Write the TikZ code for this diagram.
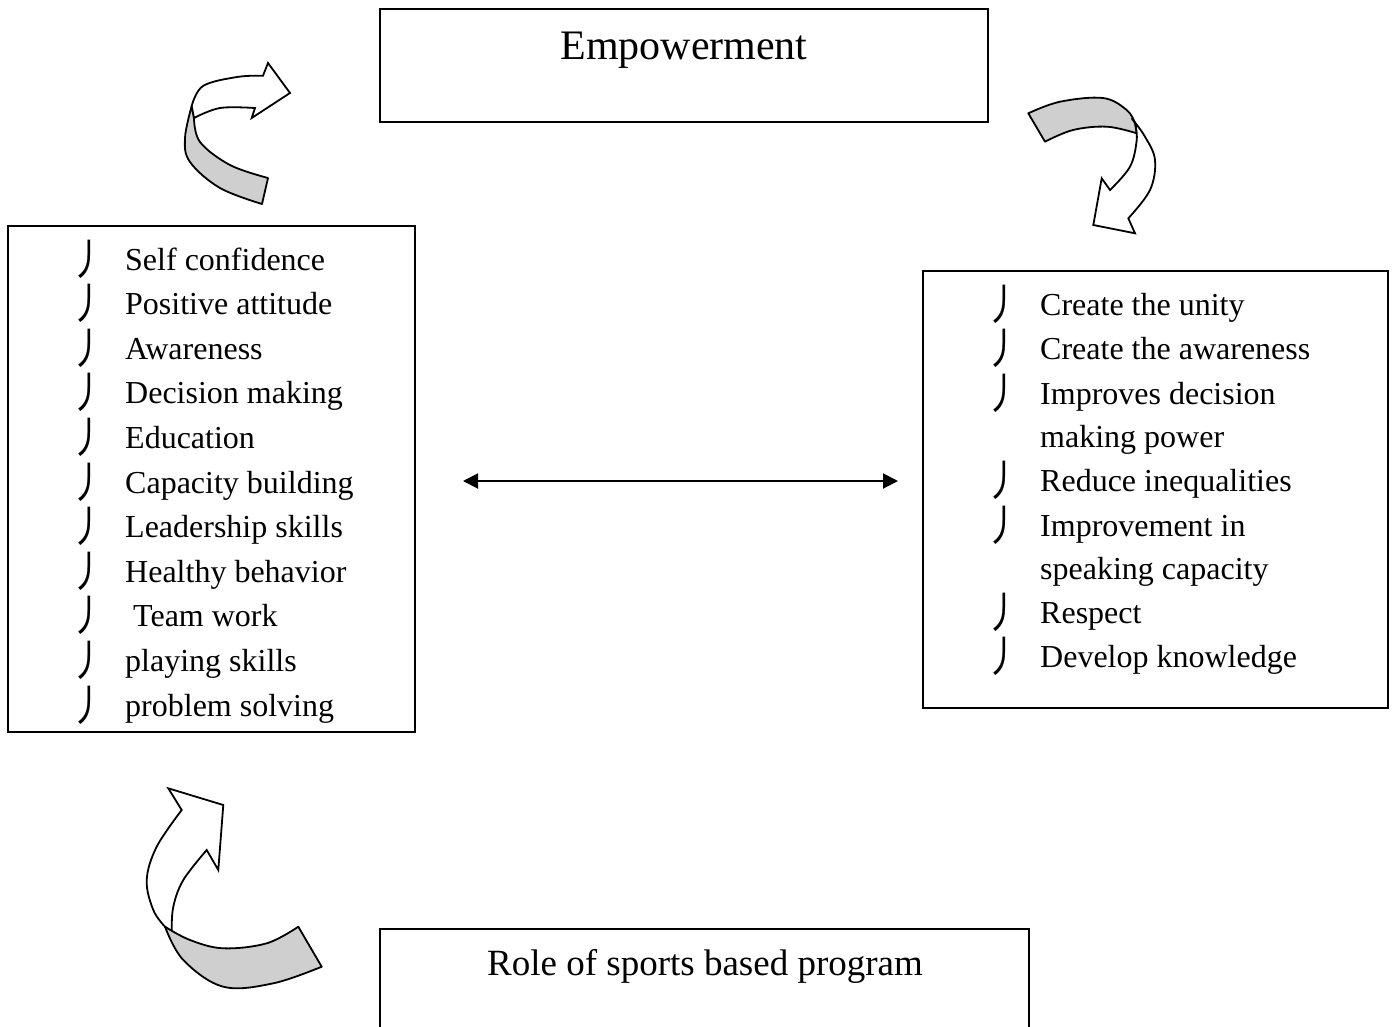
\documentclass[tikz,border=0pt]{standalone}
\usepackage{fontspec}
\usepackage{graphicx}
\setmainfont{Liberation Serif}
\newfontfamily\cjk{Noto Sans CJK SC}
\usetikzlibrary{arrows.meta}
\newcommand{\bulglyph}{\scalebox{1.05}[1.4]{\cjk\fontsize{31}{36}\selectfont 丿}}
\begin{document}
\begin{tikzpicture}[x=1pt,y=-1pt,
  box/.style={draw,line width=1.3pt},
  item/.style={anchor=base west,inner sep=0pt,font=\fontsize{32}{38}\selectfont},
  bul/.style={anchor=center,inner sep=0pt},
  band/.style={draw,fill=black!19,line width=1.8pt,line join=round},
  head/.style={draw,fill=white,line width=1.8pt,line join=miter},
  dbl/.style={line width=2pt,{Triangle[length=15pt,width=15pt]}-{Triangle[length=15pt,width=15pt]}}]
\useasboundingbox (0,0) rectangle (1394,1026);
% boxes
\draw[box] (380,9) rectangle (988,122);
\node[inner sep=0pt,anchor=base,font=\fontsize{42}{48}\selectfont] (emp) at (684,59) {Empowerment};
\draw[box] (8,226) rectangle (415,732);
\draw[box] (923,271) rectangle (1388,708);
\draw[box] (380,1030) -- (380,929) -- (1029,929) -- (1029,1030);
\node[inner sep=0pt,anchor=base,font=\fontsize{37}{44}\selectfont] (role) at (705,975) {Role of sports based program};
% left list
\foreach \t [count=\i] in {Self confidence,Positive attitude,Awareness,Decision making,Education,Capacity building,Leadership skills,Healthy behavior,{\ Team work},playing skills,problem solving}{
  \pgfmathsetmacro\yy{270+44.6*(\i-1)}
  \node[bul] (lb\i) at (88,\yy-11) {\bulglyph};
  \node[item] (li\i) at (125,\yy) {\t};
}
% right list
\node[bul] (rb1) at (1003,304) {\bulglyph}; \node[item] (ri1) at (1040,315) {Create the unity};
\node[bul] (rb2) at (1003,348) {\bulglyph}; \node[item] (ri2) at (1040,359) {Create the awareness};
\node[bul] (rb3) at (1003,393) {\bulglyph}; \node[item] (ri3) at (1040,404) {Improves decision};
\node[item] (ri4) at (1040,447) {making power};
\node[bul] (rb5) at (1003,480) {\bulglyph}; \node[item] (ri5) at (1040,491) {Reduce inequalities};
\node[bul] (rb6) at (1003,525) {\bulglyph}; \node[item] (ri6) at (1040,536) {Improvement in};
\node[item] (ri7) at (1040,579) {speaking capacity};
\node[bul] (rb8) at (1003,612) {\bulglyph}; \node[item] (ri8) at (1040,623) {Respect};
\node[bul] (rb9) at (1003,656) {\bulglyph}; \node[item] (ri9) at (1040,667) {Develop knowledge};
% double arrow
\coordinate (dl) at (463,481);
\coordinate (dr) at (898,481);
\draw[dbl] (dl) -- (dr);
% arrow 1 (top left)
\draw[band] plot[smooth,tension=0.6] coordinates {(191.7,106) (185,138) (190,162) (220,188) (262,204)}
  -- (268,178) -- plot[smooth,tension=0.6] coordinates {(268,178) (230,165) (200,142) (194,118)} -- cycle;
\draw[head] plot[smooth,tension=0.6] coordinates {(191.7,106) (203,86) (237,77) (263,75.7)}
  -- (268,63) -- (290,93) -- (251.7,118) -- (255,108)
  -- plot[smooth,tension=0.6] coordinates {(255,108) (220,108) (194,118)} -- cycle;
% arrow 2 (top right)
\draw[band] plot[smooth,tension=0.6] coordinates {(1028.3,113.3) (1060,101.7) (1103,98) (1126.7,110) (1135,123)}
  -- plot[smooth,tension=0.6] coordinates {(1136.7,133.3) (1107,126.7) (1073,130) (1045,141.7)} -- cycle;
\draw[head] plot[smooth,tension=0.6] coordinates {(1135,123) (1136.7,140) (1130,166.7) (1110,190)}
  -- (1101.7,178.3) -- (1093.3,225) -- (1135,233.3) -- (1128.3,218.3)
  -- plot[smooth,tension=0.6] coordinates {(1128.3,218.3) (1150,190) (1155,160) (1145,136.7) (1131.7,118.3)} -- cycle;
% arrow 3 (bottom left)
\draw[head] plot[smooth,tension=0.6] coordinates {(165,926.7) (153.3,910) (146.7,880) (156.7,846.7) (181.7,810)}
  -- (168.3,788.3) -- (223.3,805) -- (218.3,870) -- (206.7,850)
  -- plot[smooth,tension=0.6] coordinates {(206.7,850) (183.3,880) (173.3,906.7) (171.7,931.7)} -- cycle;
\draw[band] plot[smooth,tension=0.6] coordinates {(165,926.7) (183.3,960) (223.3,986.7) (273.3,983.3) (321.7,966.7)}
  -- (298.3,926.7) -- plot[smooth,tension=0.6] coordinates {(298.3,926.7) (266.7,943.3) (223.3,948.3) (190,940) (165,926.7)} -- cycle;
\end{tikzpicture}
\end{document}
